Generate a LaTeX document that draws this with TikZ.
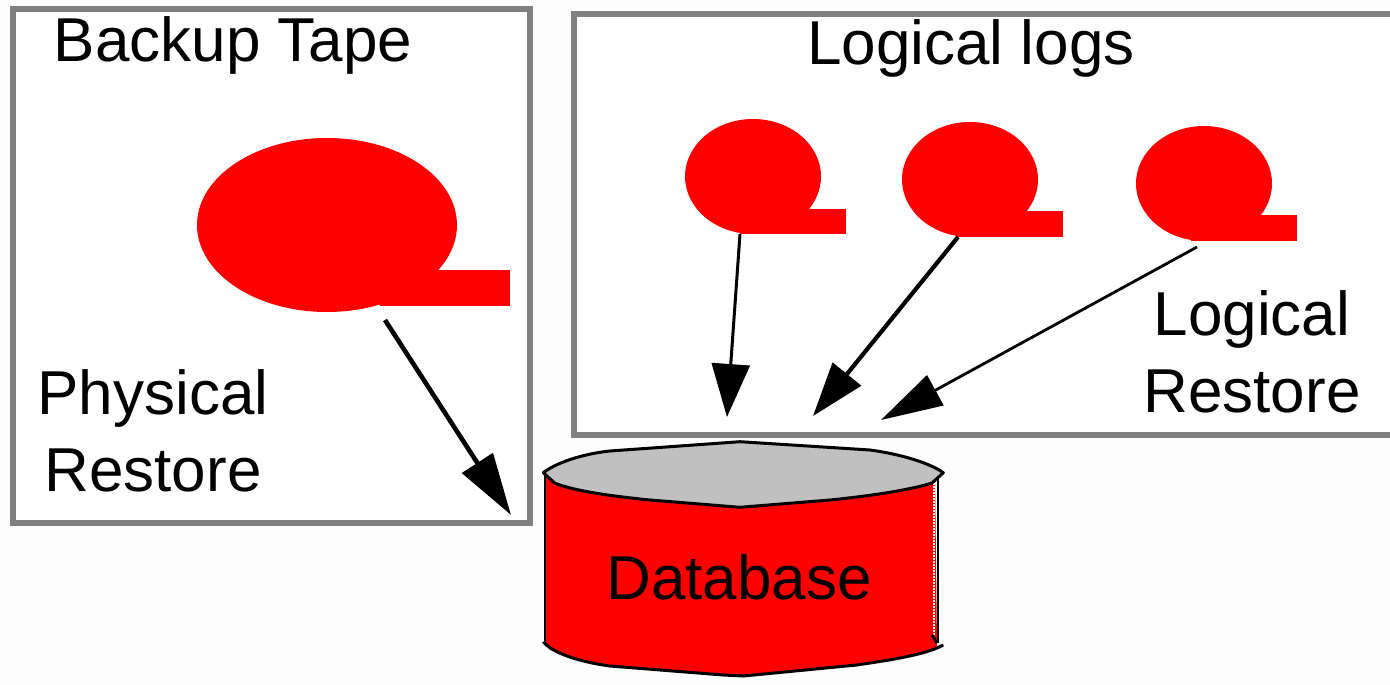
\documentclass[tikz,border=0pt]{standalone}
\usepackage{fontspec}
\setmainfont{Liberation Sans}
\usetikzlibrary{arrows.meta}
\definecolor{bgwhite}{HTML}{FDFDFD}
\definecolor{frame}{HTML}{808080}
\definecolor{lid}{HTML}{C0C0C0}
\tikzset{
  boxframe/.style={draw=frame,line width=5.5pt,fill=white},
  tapeshape/.style={fill=red,draw=none},
  label/.style={font=\fontsize{62}{70}\selectfont,text=black,inner sep=0pt,align=center},
  arrow one/.style={draw=black,line width=4.6pt,-{Triangle[length=62pt,width=36pt]}},
  arrow two/.style={draw=black,line width=3pt,-{Triangle[length=53pt,width=38pt]}},
  arrow three/.style={draw=black,line width=4.2pt,-{Triangle[length=54pt,width=36pt]}},
  arrow four/.style={draw=black,line width=2.8pt,-{Triangle[length=62pt,width=34pt]}},
  dbline/.style={draw=black,line width=3pt,line join=round},
  dbside/.style={draw=black,line width=2pt},
  dbdots/.style={draw=white,line width=1.6pt,dash pattern=on 1.5pt off 1.5pt}
}
\begin{document}
\begin{tikzpicture}[x=1pt,y=-1pt]
\useasboundingbox (0,0) rectangle (1390,685);
\fill[bgwhite] (0,0) rectangle (1390,685);
% frames
\draw[boxframe] (13,9) rectangle (530,523);
\draw[boxframe] (574,14) -- (1395,14) -- (1395,435) -- (574,435) -- cycle;
% tapes
\fill[tapeshape] (327,225) ellipse [x radius=130,y radius=87];
\fill[tapeshape] (380,270) rectangle (510,306);
\fill[tapeshape] (753,176.5) ellipse [x radius=68,y radius=57.5];
\fill[tapeshape] (740,209) rectangle (846,234);
\fill[tapeshape] (970,179.5) ellipse [x radius=68,y radius=57.5];
\fill[tapeshape] (957,211) rectangle (1063,237);
\fill[tapeshape] (1204,183.5) ellipse [x radius=68,y radius=57.5];
\fill[tapeshape] (1191,215) rectangle (1297,241);
% database
\fill[red] (546,473) -- (546,645) -- (550,650) -- (600,665) -- (723,675) -- (743,676) -- (857,665) -- (923,653) -- (937,646) -- (935,473) -- cycle;
\draw[dbside] (545,473) -- (545,642);
\draw[dbdots] (934,480) -- (934,640);
\draw[dbside] (938,473) -- (938,643);
\draw[dbline] (932,635) -- (937,643);
\draw[dbline] (543.3,641.7) .. controls (552,653) and (580,662) .. (610,666) -- (723.3,675) -- (743.3,676) -- (856.7,665) .. controls (890,660) and (925,655) .. (943.3,645);
\draw[dbline,fill=lid] (543.3,472.7) .. controls (560,460) and (590,453) .. (610,451) -- (740,441.7) -- (870,450) .. controls (900,454) and (930,463) .. (943.3,472.7) -- (932,483) .. controls (910,490) and (870,496) .. (830,500) -- (740,507.3) -- (650,500) .. controls (610,496) and (575,491) .. (555,483.3) -- cycle;
% anchor coordinates
\coordinate (t0) at (385,320);
\coordinate (d0) at (511,515);
\coordinate (t1) at (740,234);
\coordinate (d1) at (727,417);
\coordinate (t2) at (958,237);
\coordinate (d2) at (813,416);
\coordinate (t3) at (1197,247);
\coordinate (d3) at (881,420);
\draw[arrow one] (t0) -- (d0);
\draw[arrow two] (t1) -- (d1);
\draw[arrow three] (t2) -- (d2);
\draw[arrow four] (t3) -- (d3);
% labels
\node[label] (backup) at (233,45) {Backup Tape};
\node[label] (logs) at (971,48) {Logical logs};
\node[label] (phys) at (153,431) {Physical\\[7pt]Restore};
\node[label] (lrest) at (1252,352) {Logical\\[7pt]Restore};
\node[label] (db) at (739,577) {Database};
\end{tikzpicture}
\end{document}
